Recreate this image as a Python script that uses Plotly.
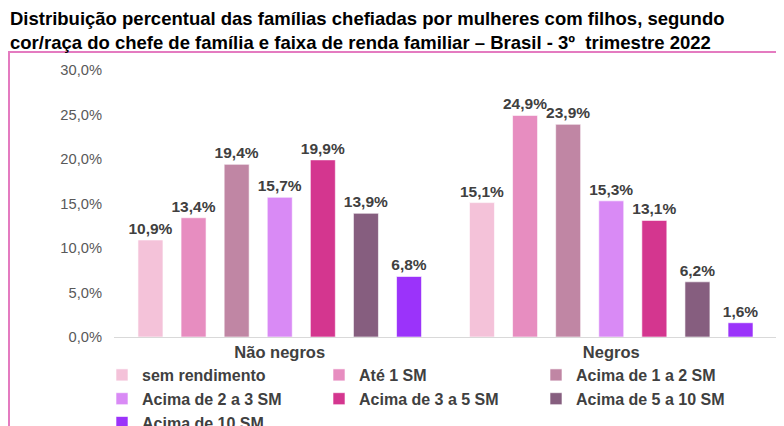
import plotly.graph_objects as go

categories = ["Não negros", "Negros"]
series_names = ["sem rendimento", "Até 1 SM", "Acima de 1 a 2 SM", "Acima de 2 a 3 SM",
                "Acima de 3 a 5 SM", "Acima de 5 a 10 SM", "Acima de 10 SM"]
nao_negros = [10.9, 13.4, 19.4, 15.7, 19.9, 13.9, 6.8]
negros = [15.1, 24.9, 23.9, 15.3, 13.1, 6.2, 1.6]
colors = ["#F4C2D9", "#E78DC0", "#C086A4", "#D98AF5", "#D4368F", "#865E7F", "#9B33FA"]

FONT = "Arial, Liberation Sans, sans-serif"

W, H = 784, 426
OFF = 8           # page body margin offsets the figure on screen
T = 62            # top margin (figure px)
PH = H - T        # paper height (b = 0)
PW = W            # paper width (l = r = 0)


def py(s):  # screen y -> paper y
    return (H - (s - OFF)) / PH


def px(s):  # screen x -> paper x
    return (s - OFF) / PW


fig = go.Figure()
for i, name in enumerate(series_names):
    vals = [nao_negros[i], negros[i]]
    fig.add_trace(go.Bar(
        name=name, x=categories, y=vals,
        marker=dict(color=colors[i], line=dict(color="rgba(255,255,255,0.6)", width=1)),
        text=[f"{v:.1f}%".replace(".", ",") for v in vals],
        textposition="outside",
        constraintext="none",
        textfont=dict(family=FONT, size=15.5, color="#404040", weight="bold"),
        cliponaxis=False,
    ))

fig.update_layout(
    width=W, height=H,
    paper_bgcolor="white", plot_bgcolor="white",
    margin=dict(l=0, r=0, t=T, b=0, pad=0, autoexpand=False),
    separators=",.",
    barmode="group", bargap=0.09, bargroupgap=0.42,
    font=dict(family=FONT),
    showlegend=True,
    legend=dict(
        orientation="h", x=px(102), xanchor="left", y=py(358), yanchor="top",
        entrywidth=172, entrywidthmode="pixels",
        font=dict(family=FONT, size=16, color="#404040", weight="bold"),
        itemwidth=30, tracegroupgap=0,
        bgcolor="rgba(0,0,0,0)",
    ),
    xaxis=dict(
        domain=[px(114), px(777)],
        showline=True, linecolor="#D9D9D9", linewidth=1,
        ticks="", tickfont=dict(family=FONT, size=16.5, color="#404040", weight="bold"),
        showgrid=False,
    ),
    yaxis=dict(
        domain=[py(337), 1],
        range=[0, 30], dtick=5, tickformat=".1f", ticksuffix="%",
        showgrid=False, zeroline=False, showline=False,
        tickfont=dict(family=FONT, size=14.7, color="#595959"),
        ticklabelstandoff=11,
    ),
    annotations=[dict(
        text="<b>Distribuição percentual das famílias chefiadas por mulheres com filhos, segundo<br>"
             "cor/raça do chefe de família e faixa de renda familiar – Brasil - 3º  trimestre 2022</b>",
        font=dict(family=FONT, size=18.5, color="#000000"),
        xref="paper", x=px(8), xanchor="left",
        yref="paper", y=py(6), yanchor="top",
        align="left", showarrow=False,
    )],
    shapes=[dict(
        type="rect", xref="paper", yref="paper",
        x0=px(9), x1=px(800), y0=py(445), y1=py(52),
        line=dict(color="#E47BC0", width=2), fillcolor="rgba(0,0,0,0)", layer="below",
    )],
)

fig.write_html("out.html")
